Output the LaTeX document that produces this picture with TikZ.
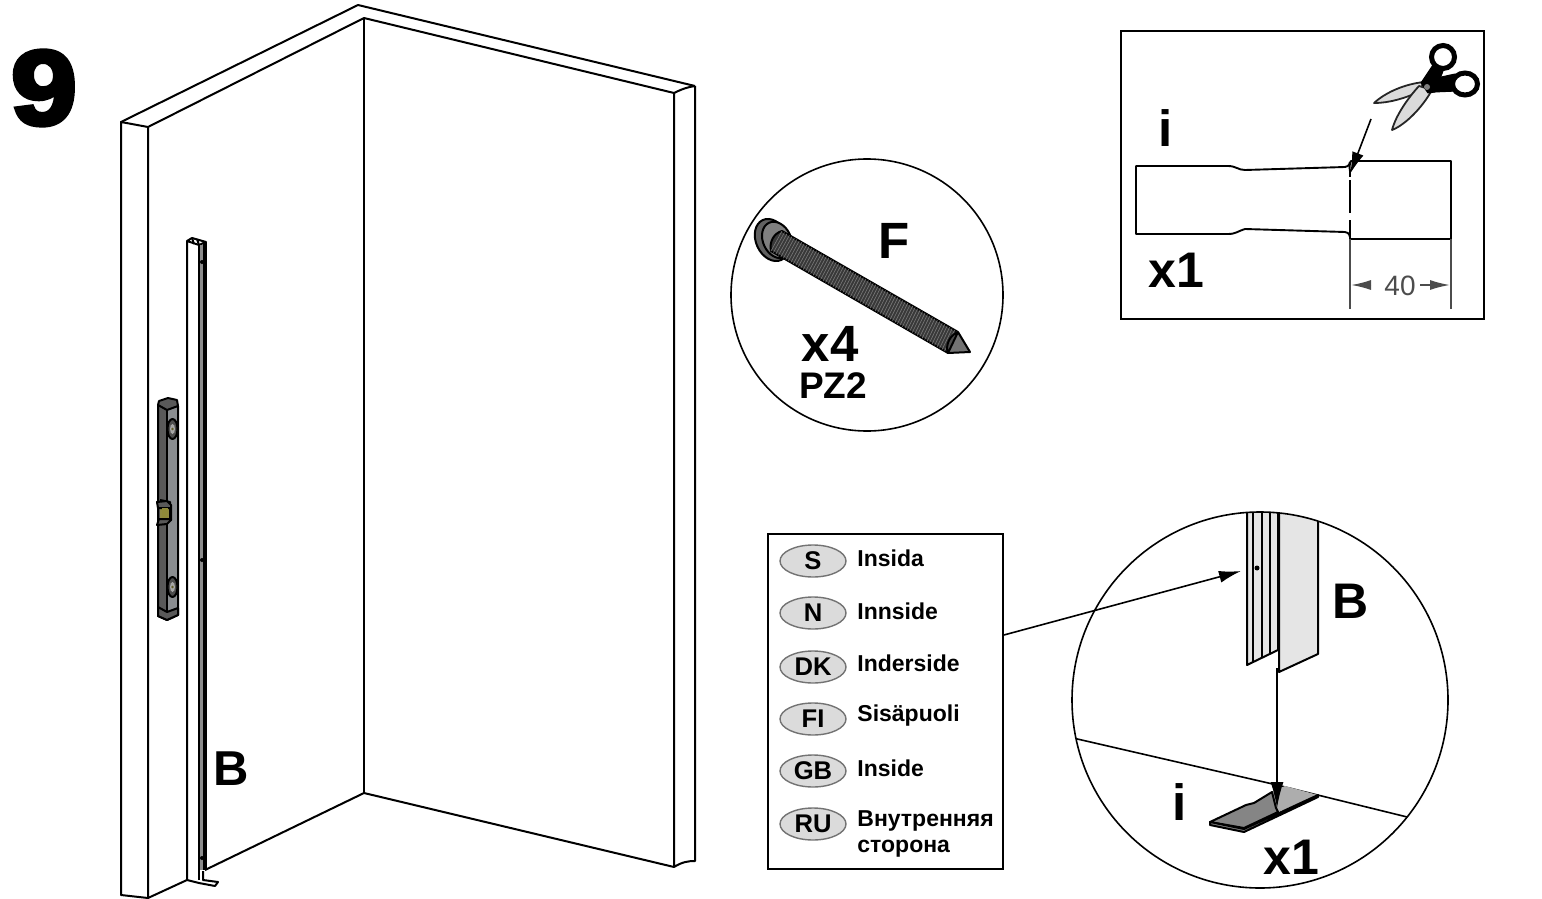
\documentclass[tikz,border=0pt]{standalone}
\usepackage{fontspec}
\setmainfont{Liberation Sans}[Ligatures=TeX]
\newfontfamily\heavyfont{Liberation Sans Bold}[FakeBold=4]
\usetikzlibrary{arrows.meta,calc,shapes.geometric}
\tikzset{
  ink/.style={draw=black,line width=1pt,line join=round},
  strip ink/.style={draw=black,line width=.95pt,line join=round},
  big/.style={font=\fontsize{24.5}{24.5}\selectfont\bfseries,inner sep=0pt},
  small/.style={font=\fontsize{11.5}{13}\selectfont\bfseries,inner sep=0pt,anchor=west,align=left},
  flag/.style={ellipse,draw=black!55,line width=.7pt,fill=black!14,minimum width=33pt,minimum height=16pt,inner sep=0pt,font=\fontsize{12.8}{12.8}\selectfont\bfseries},
  dim/.style={draw=black!70,line width=.6pt},
  dimtip/.style={-{Latex[length=10pt,width=5pt]},draw=black!70,fill=black!70,line width=.8pt},
  pointer/.style={-{Latex[length=11pt,width=6pt]},draw=black,line width=.8pt},
  blade/.style={draw=black!85,line width=.9pt,fill=black!14,line join=round},
}
\begin{document}
\begin{tikzpicture}[x=0.5pt,y=-0.5pt]
\useasboundingbox (0,0) rectangle (1542,899);
% step number
\node[inner sep=0pt] (stepnum) at (44,88) {\heavyfont\fontsize{53}{53}\selectfont\scalebox{1.12}[1]{9}};
% wall cabinet
\draw[ink] (121,122) -- (148,127) -- (148,898) -- (121,895) -- cycle;
\draw[ink] (121,122) -- (358,5) -- (695,86);
\draw[ink] (148,127) -- (364,18) -- (674,93);
\draw[ink] (364,18) -- (364,793);
\draw[ink] (148,898) -- (187,880);
\draw[ink] (205,870) -- (364,793) -- (674,867);
\draw[ink] (674,93) -- (674,867) .. controls (682,862) and (688,861) .. (695,861) -- (695,86);
\draw[ink] (674,93) .. controls (682,89) and (688,87) .. (695,86);
% strip B
\draw[ink] (187,880) -- (187,241) -- (192,238) -- (206,242) -- (199,245) -- (187,241);
\fill[black!45] (199,245) rectangle (206,870);
\draw[ink] (199,245) -- (199,880);
\draw[line width=1.8pt] (205,242) -- (205,870);
\fill (202,262) circle (2) (202,560) circle (2) (202,858) circle (2);
\draw[ink] (187,880) -- (199,883) -- (215,886) -- (218,882) -- (203,880) -- (203,871);
\draw[ink] (192,238) -- (194,244) (197,239) -- (199,245);
\node[big] (labelB) at (231,769) {B};
% hinge plate
\fill[black!65] (158,404) -- (167,408) -- (167,612) -- (158,606) -- cycle;
\fill[fill=black!45!cyan!10!gray] (167,408) -- (178,404) -- (178,610) -- (167,612) -- cycle;
\draw[ink,fill=black!65] (158,405) -- (159,401) -- (168,398) -- (177,400) -- (178,406) -- (167,410) -- cycle;
\draw[ink] (158,405) -- (158,606) -- (158,616) -- (167,620) -- (178,615) -- (178,406);
\draw[ink,fill=black!65] (158,607) -- (167,612) -- (178,608) -- (178,615) -- (167,620) -- (158,616) -- cycle;
\draw[ink] (167,410) -- (167,612);
\draw[ink,fill=olive!55!gray] (160,500) -- (170,502) -- (171,520) -- (160,522);
\draw[ink,fill=black!65] (157,502) -- (167,501) -- (171,505) -- (171,520) -- (167,524) -- (157,525) -- (159,519) -- (170,519) -- (170,508) -- (158,508) -- cycle;
\fill[olive!60!gray] (162,508) rectangle (168,518);
\foreach \yy in {429,587} {
  \draw[ink,fill=black!70] (172.5,\yy) ellipse (5 and 10);
  \fill[black!35] (172.5,\yy) ellipse (2.5 and 5);
  \fill[olive!60!black] (172.5,\yy) circle (1.4);
}
% screw detail
\node[circle,draw=black,line width=.8pt,minimum size=136pt,inner sep=0pt] (screwcircle) at (867,295) {};
\draw[ink,fill=black!62] (772,240) ellipse [x radius=16,y radius=22,rotate=25];
\draw[ink,fill=black!50] (777,240) ellipse [x radius=14,y radius=19,rotate=25];
\draw[ink,fill=black!78] (782,231) -- (958,332) -- (948,353) -- (771,251) .. controls (769,242) and (774,233) .. (782,231) -- cycle;
\foreach \t in {0,0.014,...,1} {
  \draw[black!52,line width=.3pt] ($(782,231)!\t!(958,332)$) -- ($(771,251)!\t!(948,353)$);
}
\draw[ink,fill=black!55] (958,332) -- (970,352) -- (948,353);
\draw[ink,fill=black!70] (958,332) .. controls (950,335) and (945,345) .. (948,353) -- (958,332);
\node[big,font=\fontsize{25.5}{25.5}\selectfont\bfseries] (labelF) at (894,241) {F};
\node[big,font=\fontsize{25.5}{25.5}\selectfont\bfseries] (labelx4) at (830,344) {x4};
\node[big,font=\fontsize{18.5}{18.5}\selectfont\bfseries] (labelPZ) at (833,386) {PZ2};
% cutting detail
\node[draw=black,line width=.9pt,minimum width=181.5pt,minimum height=144pt,inner sep=0pt] (cutbox) at (1302.5,175) {};
\draw[strip ink] (1350,171) .. controls (1349,168) and (1350,162) .. (1351,161) -- (1451,161) -- (1451,239) -- (1351,239);
\draw[strip ink] (1350,237) .. controls (1349,233) and (1347,232) .. (1345,232) -- (1245,229) .. controls (1238,231) and (1236,234) .. (1228,234) -- (1136,234) -- (1136,166) -- (1228,166) .. controls (1236,166) and (1238,170) .. (1245,170) -- (1345,167) .. controls (1347,167) and (1349,166) .. (1350,162);
\draw[line width=1pt] (1350,171) -- (1350,177) (1350,180) -- (1350,213) (1350,220) -- (1350,239);
\coordinate (cutfrom) at (1371,119);
\coordinate (cutto) at (1350,174);
\draw[pointer] (cutfrom) -- (cutto);
\draw[dim] (1350,239) -- (1350,309) (1451,239) -- (1451,309);
\node[inner sep=0pt,text=black!70,font=\fontsize{14}{14}\selectfont] (dim40) at (1400,286) {40};
\draw[dimtip] (1371,285) -- (1351,285);
\draw[dimtip] (1420,285) -- (1450,285);
\node[big,font=\fontsize{25.5}{25.5}\selectfont\bfseries] (labeli) at (1166,128) {i};
\node[big,font=\fontsize{25}{25}\selectfont\bfseries] (labelx1) at (1176,270) {x1};
% scissors
\draw[blade] (1424,82) .. controls (1405,84) and (1386,92) .. (1374,103) .. controls (1390,103) and (1405,98) .. (1419,92) -- cycle;
\draw[blade] (1419,86) -- (1432,90) .. controls (1422,108) and (1405,125) .. (1392,130) .. controls (1396,115) and (1408,98) .. (1419,86) -- cycle;
\fill[line join=round,draw=black,line width=.5pt] (1421,83) -- (1433,65) -- (1443,71) -- (1435,92) -- (1428,93) -- cycle;
\fill[line join=round,draw=black,line width=.5pt] (1432,79) -- (1455,74) -- (1457,91) -- (1434,92) -- cycle;
\draw[line width=2.5pt,fill=white] (1443,57) circle (11.5);
\draw[line width=2.5pt,fill=white] (1465,84) ellipse (12.5 and 11);
\fill[black!50] (1427,87) circle (3);
% inside legend
\node[draw=black,line width=.9pt,minimum width=117.5pt,minimum height=167.5pt,inner sep=0pt] (legend) at (885.5,701.5) {};
\node[flag] (fS) at (813,561) {S};
\node[flag] (fN) at (813,613) {N};
\node[flag] (fDK) at (813,667) {DK};
\node[flag] (fFI) at (813,719) {FI};
\node[flag] (fGB) at (813,771) {GB};
\node[flag] (fRU) at (813,824) {RU};
\node[small] (tS) at (857,558) {Insida};
\node[small] (tN) at (857,611) {Innside};
\node[small] (tDK) at (857,663) {Inderside};
\node[small] (tFI) at (857,716) {Sisäpuoli};
\node[small] (tGB) at (857,768) {Inside};
\node[small] (tRU) at (857,834) {Внутренняя\\сторона};
% fitting detail
\begin{scope}
\clip (1260,700) circle (188);
\draw[ink,line width=.8pt] (1060,735) -- (1277,785) -- (1460,830);
\fill[black!10] (1247,500) -- (1278,500) -- (1278,650) -- (1247,665) -- cycle;
\fill[black!10] (1279,500) -- (1318,500) -- (1318,654) -- (1279,672) -- cycle;
\draw[ink] (1247,500) -- (1247,665) -- (1278,650) -- (1278,500);
\draw[ink] (1253,500) -- (1253,662) (1262,500) -- (1262,658) (1270,500) -- (1270,654);
\draw[ink] (1279,500) -- (1279,672) -- (1318,654) -- (1318,500);
\end{scope}
\fill (1257,568) circle (2.5);
\node[circle,draw=black,line width=.8pt,minimum size=188pt,inner sep=0pt] (fitcircle) at (1260,700) {};
\fill[black!32] (1272,792) -- (1285,786) -- (1318,795) -- (1278,812) -- cycle;
\draw[ink,fill=black!48] (1210,822) -- (1246,805) -- (1254,803) -- (1272,792) -- (1276,808) -- (1278,812) -- (1244,828) -- cycle;
\draw[ink,fill=black!48] (1210,822) -- (1244,829) -- (1279,813) -- (1318,795) -- (1318,797) -- (1280,815) -- (1244,832) -- (1210,825) -- cycle;
\coordinate (pushtop) at (1277,668);
\coordinate (pushend) at (1277,808);
\draw[pointer,-{Latex[length=13pt,width=6.5pt]}] (pushtop) -- (pushend);
\coordinate (insidepoint) at (1241,571);
\draw[pointer] (legend.east |- 0,635) -- (insidepoint);
\node[big,font=\fontsize{25}{25}\selectfont\bfseries] (labelB2) at (1351,601) {B};
\node[big,font=\fontsize{25.5}{25.5}\selectfont\bfseries] (labeli2) at (1180,802) {i};
\node[big,font=\fontsize{25}{25}\selectfont\bfseries] (labelx12) at (1291,857) {x1};
\end{tikzpicture}
\end{document}
